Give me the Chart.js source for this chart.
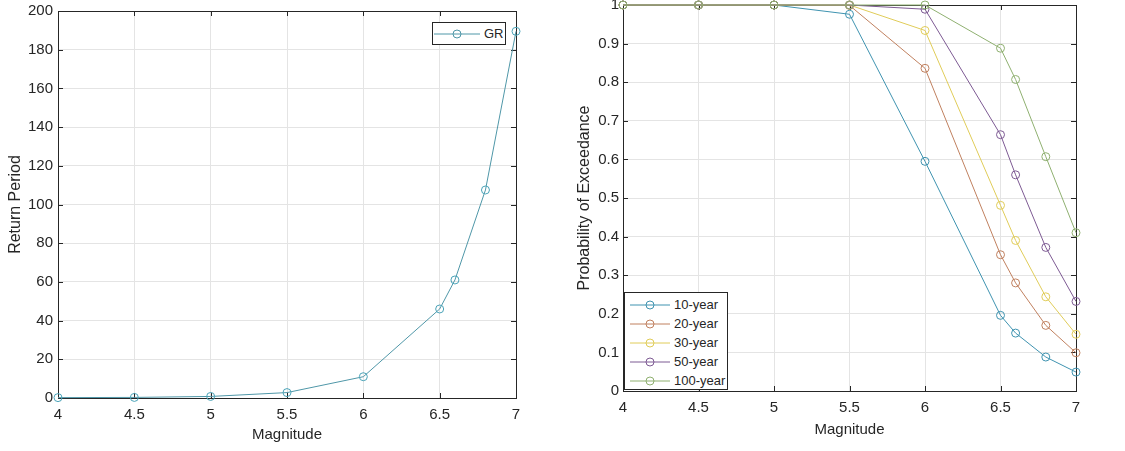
<!DOCTYPE html>
<html lang="en">
<head>
  <meta charset="UTF-8">
  <title>Return Period and Probability of Exceedance</title>
  <script src="https://cdn.jsdelivr.net/npm/chart.js"></script>
  <style>
    body {
      margin: 0;
      background: #fff;
      font-family: "Liberation Sans", Arial, sans-serif;
    }
    .panel {
      position: absolute;
      top: 0;
    }
    .legend {
      position: absolute;
      background: #fff;
      border: 1px solid #262626;
      box-sizing: border-box;
      font-size: 13px;
      color: #262626;
      white-space: nowrap;
    }
    .legend .row {
      display: flex;
      align-items: center;
      height: 19px;
    }
    .legend svg {
      display: block;
      margin-right: 4px;
      flex: none;
    }
  </style>
</head>
<body>
  <div class="panel" style="left:0;width:560px;height:451px">
    <canvas id="returnChart" width="560" height="451"></canvas>
  </div>
  <div class="panel" style="left:560px;width:565px;height:451px">
    <canvas id="probChart" width="565" height="451"></canvas>
  </div>
  <div class="legend" id="returnLegend" style="left:432px;top:22px;width:74px;height:23px;padding:1px 0 0 1px"></div>
  <div class="legend" id="probLegend" style="left:624px;top:292px;width:104px;height:98px;padding:2px 0 0 5px"></div>

  <script>
    // values
    const magnitude = [4, 4.5, 5, 5.5, 6, 6.5, 6.6, 6.8, 7];
    const returnPeriod = [0.2, 0.3, 0.8, 2.8, 11, 46, 61, 107.5, 189.5];

    const p10 = [1, 1, 1, 0.976, 0.595, 0.196, 0.150, 0.088, 0.049];
    const p20 = [1, 1, 1, 0.999, 0.836, 0.353, 0.280, 0.170, 0.099];
    const p30 = [1, 1, 1, 1, 0.934, 0.481, 0.390, 0.244, 0.147];
    const p50 = [1, 1, 1, 1, 0.989, 0.664, 0.560, 0.372, 0.232];
    const p100 = [1, 1, 1, 1, 1, 0.888, 0.807, 0.607, 0.410];

    const seriesLabels = ["10-year", "20-year", "30-year", "50-year", "100-year"];
    const seriesValues = [p10, p20, p30, p50, p100];
    const seriesColors = ["#3f93b0", "#c0805f", "#e0cc58", "#7d5a93", "#8fb070"];

    const textColor = "#262626";
    const font = { family: "'Liberation Sans', Arial, sans-serif", size: 15 };

    function toPoints(ys) {
      return magnitude.map((m, i) => ({ x: m, y: ys[i] }));
    }

    // tick labels like matlab: 4, 4.5, 0.1, 1
    function tickLabel(v) {
      return String(+Number(v).toFixed(2));
    }

    // MATLAB style box with inward ticks
    const boxPlugin = {
      id: "box",
      beforeDatasetsDraw(chart) {
        const { ctx, chartArea: a, scales } = chart;
        ctx.save();
        ctx.strokeStyle = textColor;
        ctx.lineWidth = 1;
        ctx.strokeRect(Math.round(a.left) + 0.5, Math.round(a.top) + 0.5,
          Math.round(a.right - a.left), Math.round(a.bottom - a.top));
        ctx.beginPath();
        scales.x.ticks.forEach(t => {
          const px = Math.round(scales.x.getPixelForValue(t.value)) + 0.5;
          ctx.moveTo(px, a.bottom); ctx.lineTo(px, a.bottom - 5);
          ctx.moveTo(px, a.top); ctx.lineTo(px, a.top + 5);
        });
        scales.y.ticks.forEach(t => {
          const py = Math.round(scales.y.getPixelForValue(t.value)) + 0.5;
          ctx.moveTo(a.left, py); ctx.lineTo(a.left + 5, py);
          ctx.moveTo(a.right, py); ctx.lineTo(a.right - 5, py);
        });
        ctx.stroke();
        ctx.restore();
      }
    };

    function makeOptions(cfg) {
      return {
        responsive: false,
        animation: false,
        layout: { padding: cfg.padding },
        plugins: { legend: { display: false }, tooltip: { enabled: false } },
        scales: {
          x: {
            type: "linear",
            min: 4,
            max: 7,
            ticks: { stepSize: 0.5, color: textColor, font: font, padding: 8, maxRotation: 0, callback: tickLabel },
            grid: { color: "#e4e4e4", drawTicks: false },
            border: { display: false },
            title: { display: true, text: "Magnitude", color: textColor, font: font, padding: { top: 0, bottom: cfg.xTitlePad } },
            afterFit(s) { s.height = cfg.xHeight; s.paddingLeft = 0; s.paddingRight = 0; }
          },
          y: {
            min: cfg.yMin,
            max: cfg.yMax,
            ticks: { stepSize: cfg.yStep, color: textColor, font: font, padding: cfg.yTickPad, callback: tickLabel },
            grid: { color: "#e4e4e4", drawTicks: false },
            border: { display: false },
            title: { display: true, text: cfg.yTitle, color: textColor, font: { family: font.family, size: 16 }, padding: { top: cfg.yTitlePad, bottom: 0 } },
            afterFit(s) { s.width = cfg.yWidth; s.paddingTop = 0; s.paddingBottom = 0; }
          }
        }
      };
    }

    new Chart(document.getElementById("returnChart"), {
      type: "line",
      data: {
        datasets: [{
          label: "GR",
          data: toPoints(returnPeriod),
          borderColor: "#4f97a8",
          borderWidth: 1,
          pointBorderColor: "#4aa3b8",
          pointBackgroundColor: "transparent",
          pointRadius: 4,
          pointBorderWidth: 1,
          clip: false
        }]
      },
      options: makeOptions({
        padding: { left: 0, right: 44, top: 11, bottom: 0 },
        xHeight: 53, xTitlePad: 7,
        yMin: 0, yMax: 200, yStep: 20, yTickPad: 5,
        yTitle: "Return Period", yTitlePad: 6, yWidth: 58
      }),
      plugins: [boxPlugin]
    });

    new Chart(document.getElementById("probChart"), {
      type: "line",
      data: {
        datasets: seriesLabels.map((label, i) => ({
          label: label,
          data: toPoints(seriesValues[i]),
          borderColor: seriesColors[i],
          borderWidth: 1,
          pointBorderColor: seriesColors[i],
          pointBackgroundColor: "transparent",
          pointRadius: 4,
          pointBorderWidth: 1,
          order: seriesLabels.length - i,
          clip: false
        }))
      },
      options: makeOptions({
        padding: { left: 0, right: 49, top: 4, bottom: 0 },
        xHeight: 60, xTitlePad: 12,
        yMin: 0, yMax: 1, yStep: 0.1, yTickPad: 4,
        yTitle: "Probability of Exceedance", yTitlePad: 15, yWidth: 63
      }),
      plugins: [boxPlugin]
    });

    // legends drawn as HTML boxes
    function legendRow(label, color, w) {
      const c = w / 2;
      return `<div class="row"><svg width="${w}" height="12">` +
        `<line x1="0" y1="6" x2="${w}" y2="6" stroke="${color}" stroke-width="1"/>` +
        `<circle cx="${c}" cy="6" r="4" fill="none" stroke="${color}" stroke-width="1"/></svg>` +
        `<span>${label}</span></div>`;
    }
    document.getElementById("returnLegend").innerHTML = legendRow("GR", "#4f97a8", 46);
    document.getElementById("probLegend").innerHTML =
      seriesLabels.map((l, i) => legendRow(l, seriesColors[i], 40)).join("");
  </script>
</body>
</html>
